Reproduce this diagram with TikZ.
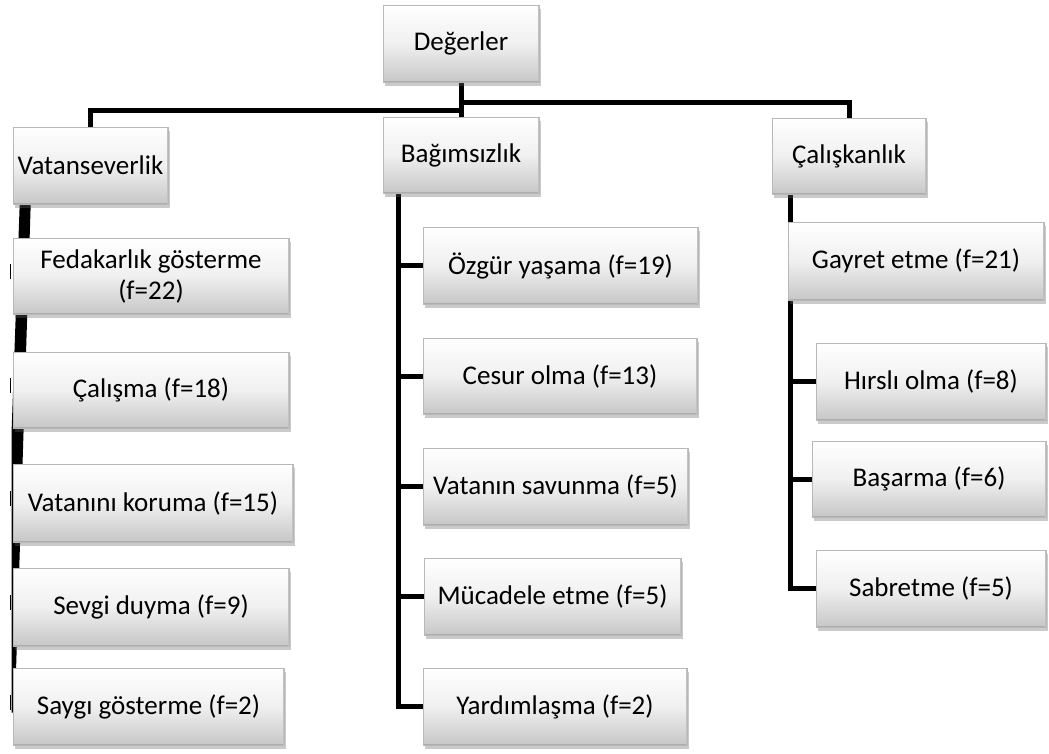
\documentclass[tikz,border=0pt]{standalone}
\usepackage{fontspec}
\setmainfont{Carlito}
\usetikzlibrary{shadows,backgrounds,calc}
\tikzset{
  vbox/.style={draw=black!28, line width=0.6pt,
    top color=white, bottom color=black!22, middle color=black!6,
    font=\fontsize{27}{31}\selectfont, align=center, inner sep=2pt,
    drop shadow={shadow xshift=1.5pt, shadow yshift=-3.5pt, opacity=0.35, fill=black!60},
    path picture={
      \draw[black!32, line width=3pt] (path picture bounding box.south west) -- (path picture bounding box.south east);
      \draw[black!24, line width=2.5pt] (path picture bounding box.south east) -- (path picture bounding box.north east);
      \draw[white, line width=2pt] (path picture bounding box.north west) -- (path picture bounding box.north east);
    }},
  conn/.style={line width=5pt, black},
  tick/.style={line width=1.4pt, black}
}
\begin{document}
\begin{tikzpicture}[x=1pt,y=1pt]
\useasboundingbox (0,0) rectangle (1049,-753);
% top level
\node[vbox, minimum width=156pt, minimum height=77pt] (D) at (461,-43.5) {Değerler};
\node[vbox, minimum width=155pt, minimum height=77pt] (V) at (90.5,-165.5) {Vatanseverlik};
\node[vbox, minimum width=156pt, minimum height=76pt] (B) at (461,-155) {Bağımsızlık};
\node[vbox, minimum width=154pt, minimum height=76pt] (C) at (849,-156) {Çalışkanlık};
% left column
\node[vbox, minimum width=276pt, minimum height=76pt] (F) at (151,-276) {Fedakarlık gösterme\\(f=22)};
\node[vbox, minimum width=276pt, minimum height=76pt] (Cm) at (151,-390) {Çalışma (f=18)};
\node[vbox, minimum width=280pt, minimum height=78pt] (Vk) at (153,-503) {Vatanını koruma (f=15)};
\node[vbox, minimum width=276pt, minimum height=78pt] (S) at (151,-607) {Sevgi duyma (f=9)};
\node[vbox, minimum width=271pt, minimum height=77pt] (Sg) at (148.5,-706.5) {Saygı gösterme (f=2)};
% middle column
\node[vbox, minimum width=275pt, minimum height=77pt] (O) at (560.5,-265.5) {Özgür yaşama (f=19)};
\node[vbox, minimum width=274pt, minimum height=76pt] (Ce) at (560,-376) {Cesur olma (f=13)};
\node[vbox, minimum width=265pt, minimum height=77pt] (Vs) at (555.5,-486.5) {Vatanın savunma (f=5)};
\node[vbox, minimum width=257pt, minimum height=77pt] (M) at (552.5,-596.5) {Mücadele etme (f=5)};
\node[vbox, minimum width=264pt, minimum height=77pt] (Y) at (555,-706.5) {Yardımlaşma (f=2)};
% right column
\node[vbox, minimum width=256pt, minimum height=78pt] (G) at (916,-261) {Gayret etme (f=21)};
\node[vbox, minimum width=230pt, minimum height=77pt] (H) at (931,-381.5) {Hırslı olma (f=8)};
\node[vbox, minimum width=234pt, minimum height=76pt] (Ba) at (929,-479) {Başarma (f=6)};
\node[vbox, minimum width=230pt, minimum height=77pt] (Sb) at (931,-588.5) {Sabretme (f=5)};

\begin{pgfonlayer}{background}
  % top connectors
  \coordinate (jl) at ($(D.south)+(0,-28)$);
  \coordinate (jr) at ($(D.south)+(0,-20)$);
  \draw[conn] (D.south) -- (B.north);
  \draw[conn] ([xshift=2.5pt]jl) -| (V.north);
  \draw[conn] ([xshift=-2.5pt]jr) -| (C.north);
  % left column: tapered line
  \fill[black] ($(V.south west)+(7,0)$) -- ($(V.south west)+(18,0)$)
     -- ($(Sg.west)+(2,-6)$) -- ($(Sg.west)+(-1,-6)$) -- ($(Cm.south west)+(-1,0)$) -- cycle;
  \foreach \n in {F,Cm,Vk,S,Sg}
    \draw[tick] ($(\n.west)+(-2,12)$) -- ($(\n.west)+(-2,-3)$);
  % middle column
  \coordinate (bt) at ($(B.south west)+(16,0)$);
  \draw[conn] (bt) |- (Y.west);
  \foreach \n in {O,Ce,Vs,M}
    \draw[conn] (bt |- \n.west) -- (\n.west);
  % right column
  \coordinate (ct) at ($(C.south west)+(19,0)$);
  \draw[conn] (ct) |- (Sb.west);
  \foreach \n in {H,Ba}
    \draw[conn] (ct |- \n.west) -- (\n.west);
\end{pgfonlayer}
\end{tikzpicture}
\end{document}
